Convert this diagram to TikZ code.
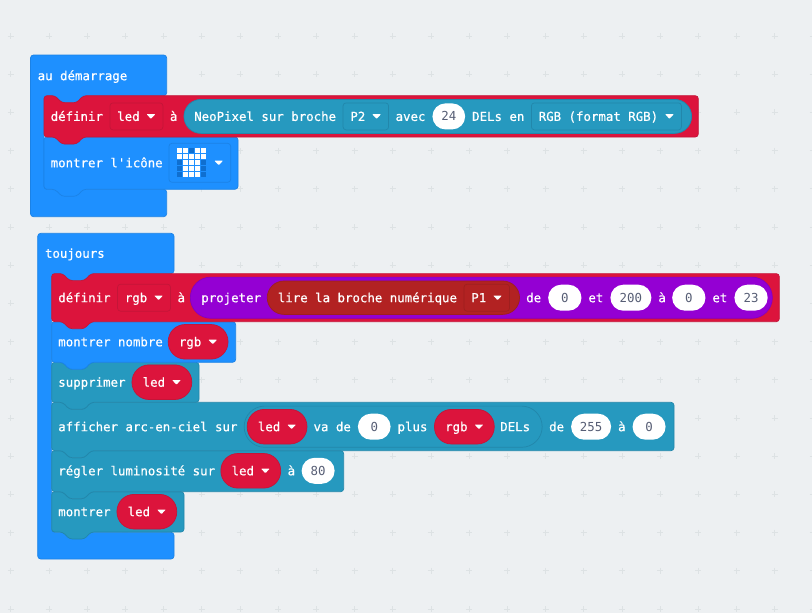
\documentclass[tikz,border=0pt]{standalone}
\usepackage{fontspec}
\usepackage{tikz}
\usetikzlibrary{positioning}
\newfontfamily\blockfont[RawFeature={embolden=0.6}]{DejaVu Sans Mono}
\newfontfamily\numfont{DejaVu Sans Mono}
\definecolor{canvascol}{HTML}{EDF0F2}
\definecolor{crosscol}{HTML}{DDE2E4}
\definecolor{basicblue}{HTML}{1E90FF}
\definecolor{basicedge}{HTML}{1B82E6}
\definecolor{varred}{HTML}{DC143C}
\definecolor{varedge}{HTML}{C41538}
\definecolor{neoteal}{HTML}{2699BF}
\definecolor{neoedge}{HTML}{2287AB}
\definecolor{mathpurple}{HTML}{9400D3}
\definecolor{mathedge}{HTML}{8600BE}
\definecolor{pinbrown}{HTML}{B22222}
\definecolor{pinedge}{HTML}{9E1F1F}
\definecolor{numcol}{HTML}{575E75}
\definecolor{ledoff}{HTML}{0F6FD0}
% hat block with a lower arm: style, x0, y0, x1, y1, inner x, header bottom, arm top
\newcommand{\hatblock}[8]{
  \draw[#1,rounded corners=3pt] (#2,#3) -- (#4,#3) -- (#4,#7) -- (#6+39.3,#7) -- (#6+32.7,#7+7)
    -- (#6+17.7,#7+7) -- (#6+11,#7) -- (#6,#7) -- (#6,#8) -- (#4,#8) -- (#4,#5) -- (#2,#5) -- cycle;
}
% stack block with notch and tab: style, x0, y0, x1, y1
\newcommand{\stackblock}[5]{
  \draw[#1,rounded corners=3pt] (#2,#3) -- (#2+11,#3) -- (#2+17.7,#3+7) -- (#2+32.7,#3+7)
    -- (#2+39.3,#3) -- (#4,#3) -- (#4,#5) -- (#2+39.3,#5) -- (#2+32.7,#5+7) -- (#2+17.7,#5+7)
    -- (#2+11,#5) -- (#2,#5) -- cycle;
}
\newcommand{\gaproom}{\rule{16pt}{0pt}}
\begin{document}
\begin{tikzpicture}[x=1pt,
                    y=-1pt,
                    node distance=7pt,
                    line width=0.7pt,
                    every node/.style={inner sep=0pt,outer sep=0pt,
                                       font=\blockfont\fontsize{12.4}{14}\selectfont,
                                       text height=9pt,text depth=0pt},
                    lbl/.style={text=white},
                    blueblock/.style={fill=basicblue,draw=basicedge},
                    redblock/.style={fill=varred,draw=varedge},
                    tealblock/.style={fill=neoteal,draw=neoedge},
                    dropred/.style={text=white,draw=varedge,fill=varred,rounded corners=3pt,
                                    inner xsep=7.3pt,minimum height=27pt},
                    dropteal/.style={dropred,draw=neoedge,fill=neoteal},
                    dropbrown/.style={dropred,draw=pinedge,fill=pinbrown},
                    dropblue/.style={draw=basicedge,fill=basicblue,rounded corners=3pt},
                    varpill/.style={text=white,draw=varedge,fill=varred,rounded corners=17pt,
                                    inner xsep=10.7pt,minimum height=34.6pt},
                    numfield/.style={text=numcol,fill=white,rounded corners=13pt,minimum height=26pt,
                                     font=\numfont\fontsize{12.4}{14}\selectfont},
                    neopill/.style={draw=neoedge,fill=neoteal,rounded corners=17pt,minimum height=34pt},
                    subpill/.style={draw=neoedge,fill=neoteal,rounded corners=20.5pt,minimum height=41.2pt},
                    mappill/.style={draw=mathedge,fill=mathpurple,rounded corners=20.5pt,minimum height=41.2pt},
                    pinpill/.style={draw=pinedge,fill=pinbrown,rounded corners=16.7pt,minimum height=33.4pt},
                    droptip/.style={fill=white,draw=none,rounded corners=0.7pt},
                    ]
\useasboundingbox (0,0) rectangle (812,613);
\fill[canvascol] (0,0) rectangle (812,613);

% grid crosses
\foreach \i in {0,...,21}
  \foreach \j in {1,...,16}
    \draw[crosscol,line width=0.8pt] (10.7+38.2*\i-3,-2.2+38.2*\j) -- +(6,0) (10.7+38.2*\i,-2.2+38.2*\j-3) -- +(0,6);

% au demarrage
\hatblock{blueblock}{30.5}{55}{166.7}{216.7}{44}{95.7}{189.3}
\stackblock{blueblock}{44}{137}{238}{189.3}
\stackblock{redblock}{44}{95.7}{698.3}{137}

\node[lbl,anchor=west] (start) at (37.7,75.7) {au démarrage};
\node[lbl,anchor=west] (setled) at (50.7,116.4) {définir};
\node[dropred] (ledname) [right=of setled] {led\gaproom};
\node[lbl] (setledto) [right=of ledname] {à};
\node[neopill,minimum width=507.7pt] (neo) [right=6.5pt of setledto] {};
\node[lbl] (neotxt) [right=10.3pt of neo.west] {NeoPixel sur broche};
\node[dropteal] (pintwo) [right=of neotxt] {P2\gaproom};
\node[lbl] (avec) [right=of pintwo] {avec};
\node[numfield,minimum width=32.7pt] (numleds) [right=of avec] {24};
\node[lbl] (delsen) [right=of numleds] {DELs en};
\node[dropteal] (rgbfmt) [right=of delsen] {RGB (format RGB)\gaproom};

\node[lbl,anchor=west] (showicon) at (50.7,162.8) {montrer l'icône};
\node[dropblue,minimum width=61.7pt,minimum height=39pt] (icon) [right=6.3pt of showicon] {};
\foreach \c in {0,...,4}
  \foreach \r in {0,...,4}
    \fill[white] (177.2+5.93*\c,147.9+6*\r) rectangle +(4.9,4.9);
\foreach \c/\r in {2/0,0/2,4/2,0/3,4/3,0/4,4/4}
  \fill[ledoff] (177.2+5.93*\c,147.9+6*\r) rectangle +(4.9,4.9);

% toujours
\hatblock{blueblock}{37.7}{233.3}{174}{559}{51.7}{273.6}{532.3}
\stackblock{tealblock}{51.7}{491.7}{184}{532}
\stackblock{tealblock}{51.7}{450.7}{343.7}{491.7}
\stackblock{tealblock}{51.7}{402.3}{674}{450.7}
\stackblock{tealblock}{51.7}{362.3}{199}{402.3}
\stackblock{blueblock}{51.7}{321.7}{235.7}{362.3}
\stackblock{redblock}{51.7}{273.6}{779.3}{321.7}

\node[lbl,anchor=west] (forever) at (45,253.3) {toujours};
\node[lbl,anchor=west] (setrgb) at (58.3,297.7) {définir};
\node[dropred] (rgbname) [right=of setrgb] {rgb\gaproom};
\node[lbl] (setrgbto) [right=of rgbname] {à};
\node[mappill,minimum width=582pt] (map) [right=5.3pt of setrgbto] {};
\node[lbl] (maptxt) [right=11pt of map.west] {projeter};
\node[pinpill,minimum width=252.3pt] (readpin) [right=6.2pt of maptxt] {};
\node[lbl] (readtxt) [right=10.6pt of readpin.west] {lire la broche numérique};
\node[dropbrown] (pinone) [right=of readtxt] {P1\gaproom};
\node[lbl] (mapde) [right=6.7pt of readpin] {de};
\node[numfield,minimum width=33.3pt] (fromlow) [right=of mapde] {0};
\node[lbl] (mapet) [right=of fromlow] {et};
\node[numfield,minimum width=41pt] (fromhigh) [right=of mapet] {200};
\node[lbl] (mapa) [right=of fromhigh] {à};
\node[numfield,minimum width=33.3pt] (tolow) [right=6.3pt of mapa] {0};
\node[lbl] (mapetb) [right=of tolow] {et};
\node[numfield,minimum width=33.3pt] (tohigh) [right=of mapetb] {23};

\node[lbl,anchor=west] (shownum) at (58.3,341.8) {montrer nombre};
\node[varpill] (numvar) [right=5.4pt of shownum] {rgb\gaproom};

\node[lbl,anchor=west] (clear) at (58.3,382.2) {supprimer};
\node[varpill] (clearvar) [right=6.5pt of clear] {led\gaproom};

\node[lbl,anchor=west] (rainbow) at (58.3,426.7) {afficher arc-en-ciel sur};
\node[subpill,minimum width=298pt] (range) [right=6.7pt of rainbow] {};
\node[varpill] (rangevar) [right=3pt of range.west] {led\gaproom};
\node[lbl] (vade) [right=6.6pt of rangevar] {va de};
\node[numfield,minimum width=32.7pt] (rangefrom) [right=of vade] {0};
\node[lbl] (plustxt) [right=of rangefrom] {plus};
\node[varpill] (rangeleds) [right=of plustxt] {rgb\gaproom};
\node[lbl] (delstxt) [right=6pt of rangeleds] {DELs};
\node[lbl] (huede) [right=of range] {de};
\node[numfield,minimum width=40pt] (huefrom) [right=of huede] {255};
\node[lbl] (huea) [right=of huefrom] {à};
\node[numfield,minimum width=33pt] (hueto) [right=of huea] {0};

\node[lbl,anchor=west] (bright) at (58.3,470.8) {régler luminosité sur};
\node[varpill] (brightvar) [right=5.8pt of bright] {led\gaproom};
\node[lbl] (brighta) [right=of brightvar] {à};
\node[numfield,minimum width=33pt] (brightval) [right=6.5pt of brighta] {80};

\node[lbl,anchor=west] (show) at (58.3,511.7) {montrer};
\node[varpill] (showvar) [right=6.4pt of show] {led\gaproom};

% dropdown tips
\foreach \n in {ledname,pintwo,rgbfmt,icon,rgbname,pinone}
  \fill[droptip,shift={(\n.east)}] (-16.4,-2.2) -- (-7.6,-2.2) -- (-12,2.4) -- cycle;
\foreach \n in {numvar,clearvar,rangevar,rangeleds,brightvar,showvar}
  \fill[droptip,shift={(\n.east)}] (-19.7,-2.2) -- (-10.9,-2.2) -- (-15.3,2.4) -- cycle;
\end{tikzpicture}
\end{document}
